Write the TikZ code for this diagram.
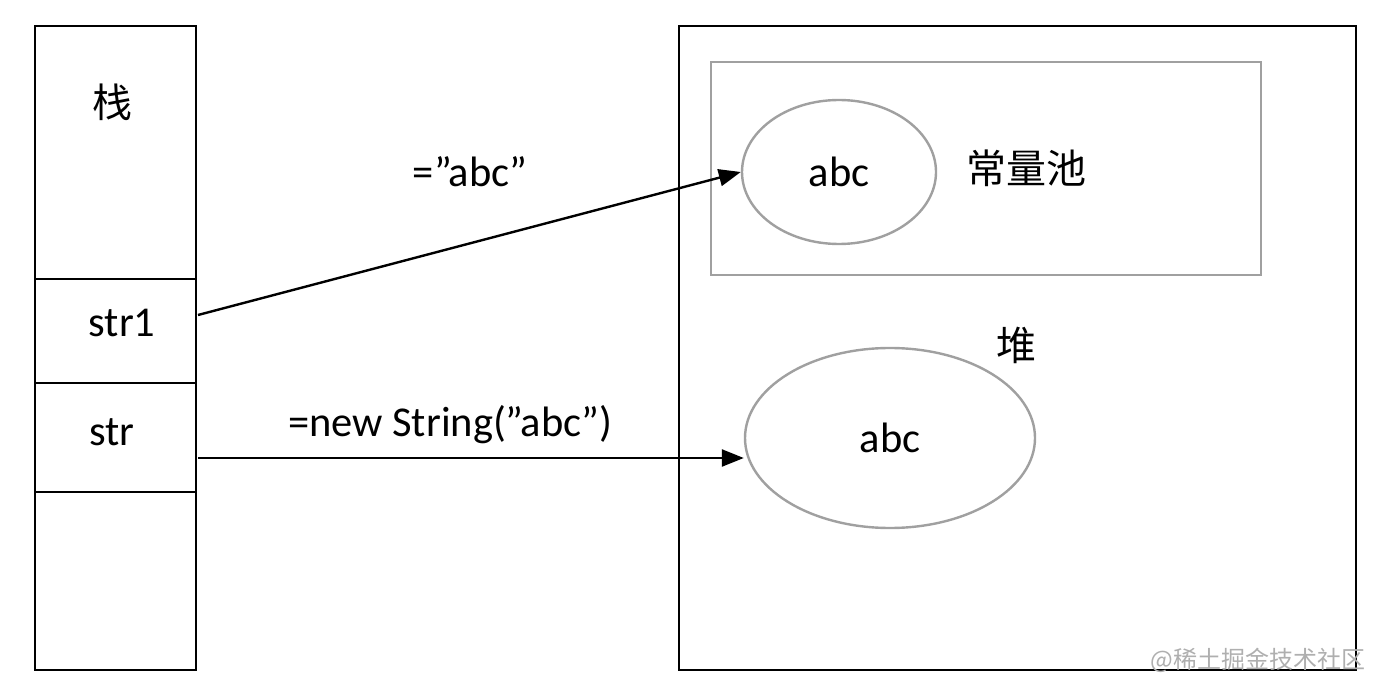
\documentclass[tikz,border=0pt]{standalone}
\usepackage{fontspec}
\setmainfont{Carlito}
\newfontfamily\cjk{Noto Sans CJK SC}
\usetikzlibrary{arrows.meta,shapes.geometric}
\definecolor{boxgray}{RGB}{160,160,160}
\definecolor{wmgray}{RGB}{175,175,175}
\tikzset{
  blk/.style={draw=black, line width=2.6pt},
  gry/.style={draw=boxgray, line width=2.4pt},
  lbl/.style={font=\fontsize{42.5}{50}\selectfont, inner sep=0pt},
  cjklbl/.style={font=\cjk\fontsize{40}{46}\selectfont, inner sep=0pt},
  ptr/.style={draw=black, line width=2.4pt, -{Triangle[length=22pt,width=17pt]}},
}
\begin{document}
\begin{tikzpicture}[x=1pt,y=-1pt]
\useasboundingbox (0,0) rectangle (1383,692);
\fill[white] (0,0) rectangle (1383,692);
% stack
\draw[blk] (35,26) rectangle (196,670);
\draw[blk] (35,279) -- (196,279);
\draw[blk] (35,383) -- (196,383);
\draw[blk] (35,492) -- (196,492);
\node[cjklbl] (stack) at (112,102) {栈};
\node[lbl] (str1) at (122,323) {str1};
\node[lbl] (str) at (112,432) {str};
\coordinate (s1) at (198,315);
\coordinate (s2) at (198,458);
% heap
\draw[blk] (679,26) rectangle (1356,670);
\draw[gry] (711,62) rectangle (1261,275);
\node[gry, ellipse, minimum width=194pt, minimum height=144pt, lbl] (pool) at (839,172) {abc};
\node[cjklbl] (poollbl) at (1026,168) {常量池};
\node[cjklbl] (heaplbl) at (1016,345) {堆};
\node[gry, ellipse, minimum width=290pt, minimum height=180pt, lbl] (heap) at (890,438) {abc};
% arrows
\draw[ptr] (s1) -- (pool.west);
\draw[ptr] (s2) -- (heap.west |- s2);
\node[lbl] (l1) at (470,172) {=”abc”};
\node[lbl] (l2) at (450,425) {=new String(”abc”)};
% watermark
\node[font=\cjk\fontsize{24}{28}\selectfont, text=wmgray, inner sep=0pt] (wm) at (1258,660) {@稀土掘金技术社区};
\end{tikzpicture}
\end{document}
